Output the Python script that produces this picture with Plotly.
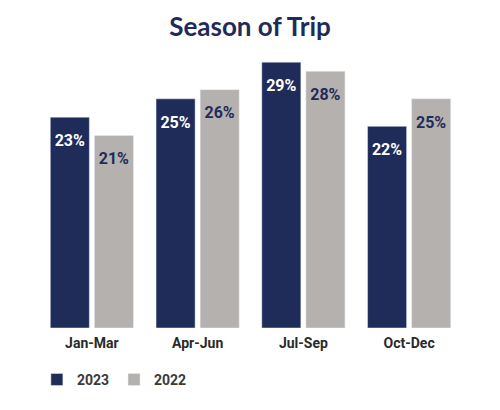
import plotly.graph_objects as go

seasons = ['Jan-Mar', 'Apr-Jun', 'Jul-Sep', 'Oct-Dec']
share_2023 = [23, 25, 29, 22]
share_2022 = [21, 26, 28, 25]

navy = '#1f2c5a'
grey = '#b5b1ae'
narrow = 'Liberation Sans Narrow, Arial Narrow, Roboto'

fig = go.Figure()
fig.add_trace(go.Bar(
    x=seasons, y=share_2023, name='<b>2023</b>',
    marker_color=navy,
    text=[f'{v}%' for v in share_2023],
    textfont=dict(color='white', size=16, family='Roboto'),
))
fig.add_trace(go.Bar(
    x=seasons, y=share_2022, name='<b>2022</b>',
    marker_color=grey,
    text=[f'{v}%' for v in share_2022],
    textfont=dict(color=navy, size=16, family='Roboto'),
))

# small blank first line pushes the label a bit down from the bar top
fig.update_traces(textposition='inside', insidetextanchor='end', textangle=0,
                  texttemplate='<span style="font-size:5px"> </span><br><b>%{text}</b>',
                  cliponaxis=False)

# page body adds ~8px offset, so margins are shifted accordingly
fig.update_layout(
    width=500, height=410,
    barmode='group', bargap=0.166, bargroupgap=0.114,
    plot_bgcolor='white', paper_bgcolor='white',
    margin=dict(l=31, r=46, t=45, b=90, autoexpand=False),
    title=dict(text='<b>Season of Trip</b>', x=0.484, xanchor='center', y=0.954, yanchor='middle',
               font=dict(size=26, color=navy, family='Lato, Open Sans')),
    xaxis=dict(showline=False, ticks='outside', ticklen=2, tickcolor='rgba(0,0,0,0)',
               tickfont=dict(size=14, color='#2a2a2a', family=narrow)),
    yaxis=dict(range=[0, 30], visible=False),
    legend=dict(orientation='h', x=-0.005, xanchor='left', yref='container', y=0.093, yanchor='middle',
                font=dict(size=14, color='#3a3a3a', family=narrow)),
    uniformtext=dict(minsize=10, mode='show'),
)
fig.update_xaxes(tickprefix='<b>', ticksuffix='</b>')

fig.write_html('out.html')
